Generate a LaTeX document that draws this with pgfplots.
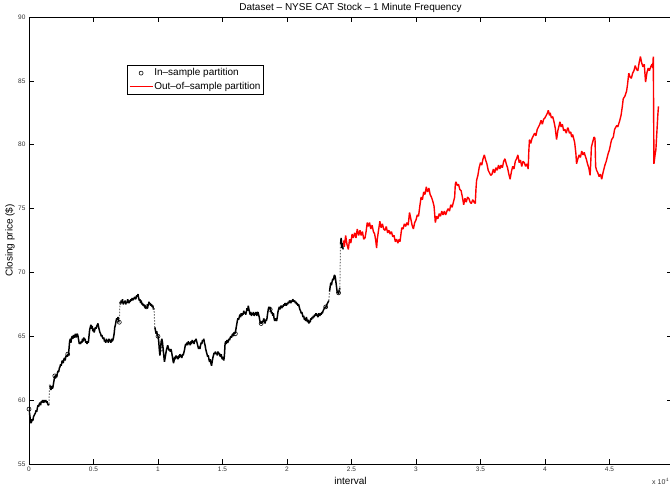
\documentclass[border=0pt]{standalone}
\usepackage{pgfplots}
\pgfplotsset{compat=1.18}
\usepackage{fontspec}
\setmainfont{Liberation Sans}
\pgfplotstableread{
x y
0.00 59.3
0.005 58.9
0.01 58.5
0.015 58.2
0.02 58.3
0.025 58.5
0.03 58.4
0.035 58.7
0.04 58.8
0.045 58.9
0.05 59.0
0.055 59.2
0.06 59.1
0.065 59.4
0.07 59.6
0.075 59.5
0.08 59.7
0.085 59.8
0.09 59.6
0.095 59.9
0.10 59.8
0.105 60.0
0.11 59.9
0.115 59.8
0.12 60.0
0.125 59.9
0.13 60.0
0.135 59.8
0.14 59.9
0.145 59.7
0.15 59.6
0.155 59.7
nan nan
0.16 61.2
0.165 61.0
0.17 60.8
0.175 61.1
0.18 60.9
0.185 61.0
0.19 61.3
0.195 61.6
0.20 61.9
0.205 61.7
0.21 62.0
0.215 61.8
0.22 62.1
0.225 62.3
0.23 62.2
0.235 62.5
0.24 62.6
0.245 62.8
0.25 62.7
0.255 63.0
0.26 63.1
0.265 62.9
0.27 63.2
0.275 63.3
0.28 63.1
0.285 63.4
0.29 63.5
0.295 63.4
0.30 63.6
0.305 63.5
0.31 64.0
0.315 64.6
0.32 64.8
0.325 64.5
0.33 64.9
0.335 65.0
0.34 64.8
0.345 65.1
0.35 64.9
0.355 65.0
0.36 65.2
0.365 64.9
0.37 65.1
0.375 65.2
0.38 65.0
0.385 64.7
0.39 64.4
0.395 64.5
0.40 64.4
0.405 64.6
0.41 64.5
0.415 64.8
0.42 64.6
0.425 64.9
0.43 64.7
0.435 64.8
0.44 64.5
0.445 64.6
0.45 64.4
0.455 64.6
0.46 64.5
0.465 65.0
0.47 65.5
0.475 65.7
0.48 65.9
0.485 65.6
0.49 65.8
0.495 65.4
0.50 65.6
0.505 65.3
0.51 65.5
0.515 65.7
0.52 65.6
0.525 65.8
0.53 65.9
0.535 66.0
0.54 65.7
0.545 65.5
0.55 65.3
0.555 65.2
0.56 65.0
0.565 65.1
0.57 64.9
0.575 64.8
0.58 64.9
0.585 64.6
0.59 64.7
0.595 64.5
0.60 64.8
0.605 64.6
0.61 64.7
0.615 64.5
0.62 64.8
0.625 64.6
0.63 64.7
0.635 64.5
0.64 64.8
0.645 64.6
0.65 64.7
0.655 64.9
0.66 65.2
0.665 65.7
0.67 65.9
0.675 66.2
0.68 66.4
0.685 66.3
0.69 66.5
0.695 66.2
0.70 66.1
nan nan
0.705 67.7
0.71 67.5
0.715 67.8
0.72 67.6
0.725 67.9
0.73 67.5
0.735 67.7
0.74 67.6
0.745 67.8
0.75 67.5
0.755 67.7
0.76 67.6
0.765 67.9
0.77 67.7
0.775 67.6
0.78 67.8
0.785 67.7
0.79 67.9
0.795 67.8
0.80 68.0
0.805 67.8
0.81 68.0
0.815 67.9
0.82 68.1
0.825 67.9
0.83 68.0
0.835 68.2
0.84 68.1
0.845 68.3
0.85 68.0
0.855 67.8
0.86 67.9
0.865 67.6
0.87 67.8
0.875 67.5
0.88 67.6
0.885 67.4
0.89 67.5
0.895 67.3
0.90 67.4
0.905 67.2
0.91 67.3
0.915 67.2
0.92 67.5
0.925 67.4
0.93 67.7
0.935 67.5
0.94 67.6
0.945 67.4
0.95 67.5
0.955 67.3
0.96 67.4
0.965 67.1
0.97 67.2
nan nan
0.975 65.7
0.98 65.5
0.985 65.2
0.99 65.4
0.995 65.1
1.00 65.0
1.005 64.7
1.01 64.0
1.015 63.5
1.02 64.1
1.025 64.6
1.03 64.8
1.035 64.5
1.04 64.0
1.045 63.5
1.05 63.0
1.055 63.3
1.06 63.6
1.065 63.9
1.07 64.1
1.075 64.3
1.08 64.1
1.085 63.9
1.09 64.0
1.095 63.8
1.10 64.0
1.105 63.8
1.11 63.5
1.115 63.2
1.12 62.9
1.125 63.1
1.13 63.4
1.135 63.2
1.14 63.5
1.145 63.3
1.15 63.4
1.155 63.2
1.16 63.5
1.165 63.3
1.17 63.6
1.175 63.4
1.18 63.5
1.185 63.3
1.19 63.6
1.195 63.5
1.20 63.7
1.205 63.9
1.21 64.2
1.215 64.4
1.22 64.3
1.225 64.5
1.23 64.3
1.235 64.6
1.24 64.4
1.245 64.5
1.25 64.3
1.255 64.6
1.26 64.4
1.265 64.7
1.27 64.5
1.275 64.6
1.28 64.4
1.285 64.7
1.29 64.6
1.295 64.8
1.30 64.6
1.305 64.4
1.31 64.2
1.315 64.0
1.32 64.2
1.325 64.0
1.33 64.3
1.335 64.5
1.34 64.4
1.345 64.7
1.35 64.6
1.355 64.8
1.36 64.5
1.365 64.3
1.37 64.0
1.375 63.8
1.38 63.6
1.385 63.4
1.39 63.5
1.395 63.2
1.40 63.0
1.405 63.2
1.41 62.9
1.415 62.7
1.42 63.0
1.425 63.3
1.43 63.5
1.435 63.7
1.44 63.6
1.445 63.8
1.45 63.6
1.455 63.7
1.46 63.5
1.465 63.8
1.47 63.6
1.475 63.7
1.48 63.5
1.485 63.4
1.49 63.6
1.495 63.3
1.50 63.2
1.505 63.4
1.51 63.1
1.515 63.5
1.52 64.4
1.525 64.6
1.53 64.4
1.535 64.7
1.54 64.5
1.545 64.6
1.55 64.8
1.555 64.7
1.56 64.9
1.565 65.0
1.57 64.9
1.575 65.1
1.58 65.2
1.585 65.0
1.59 65.3
1.595 65.2
1.60 65.3
1.605 65.6
1.61 65.9
1.615 66.2
1.62 66.4
1.625 66.3
1.63 66.5
1.635 66.7
1.64 66.5
1.645 66.8
1.65 66.6
1.655 66.8
1.66 66.7
1.665 67.0
1.67 66.8
1.675 66.9
1.68 66.7
1.685 66.9
1.69 67.2
1.695 67.0
1.70 67.4
1.705 67.1
1.71 66.9
1.715 66.7
1.72 66.9
1.725 66.6
1.73 66.8
1.735 66.7
1.74 66.9
1.745 66.6
1.75 66.8
1.755 66.7
1.76 66.9
1.765 66.6
1.77 66.8
1.775 66.9
1.78 66.7
1.785 66.5
1.79 66.2
1.795 66.0
1.80 66.1
1.805 66.0
1.81 66.2
1.815 66.1
1.82 66.4
1.825 66.2
1.83 66.0
1.835 66.3
1.84 66.2
1.845 66.4
1.85 66.8
1.855 67.1
1.86 67.3
1.865 67.1
1.87 67.3
1.875 67.0
1.88 66.8
1.885 66.9
1.89 66.6
1.895 66.8
1.90 66.4
1.905 66.2
1.91 66.4
1.915 66.3
1.92 66.2
1.925 66.5
1.93 66.9
1.935 67.1
1.94 67.3
1.945 67.1
1.95 67.3
1.955 67.4
1.96 67.2
1.965 67.4
1.97 67.3
1.975 67.5
1.98 67.4
1.985 67.6
1.99 67.5
1.995 67.4
2.00 67.6
2.005 67.5
2.01 67.7
2.015 67.6
2.02 67.8
2.025 67.7
2.03 67.6
2.035 67.8
2.04 67.7
2.045 67.9
2.05 67.8
2.055 67.7
2.06 67.8
2.065 67.6
2.07 67.7
2.075 67.5
2.08 67.6
2.085 67.4
2.09 67.5
2.095 67.3
2.10 67.1
2.105 67.0
2.11 66.8
2.115 66.9
2.12 66.7
2.125 66.5
2.13 66.6
2.135 66.3
2.14 66.4
2.145 66.2
2.15 66.5
2.155 66.3
2.16 66.1
2.165 66.3
2.17 66.0
2.175 66.2
2.18 66.1
2.185 66.4
2.19 66.3
2.195 66.5
2.20 66.4
2.205 66.6
2.21 66.5
2.215 66.7
2.22 66.6
2.225 66.8
2.23 66.6
2.235 66.7
2.24 66.5
2.245 66.8
2.25 66.7
2.255 66.6
2.26 66.8
2.265 66.7
2.27 66.9
2.275 66.8
2.28 67.0
2.285 67.1
2.29 67.2
2.295 67.3
2.30 67.2
2.305 67.4
2.31 67.5
2.315 67.6
2.32 67.7
2.325 67.8
nan nan
2.33 68.5
2.335 68.9
2.34 69.2
2.345 69.0
2.35 69.3
2.355 69.5
2.36 69.4
2.365 69.7
2.37 69.8
2.375 69.6
2.38 69.2
2.385 68.8
2.39 68.4
2.395 68.5
2.40 68.3
2.405 68.6
2.41 68.8
nan nan
2.415 72.2
2.42 72.7
2.425 71.9
2.43 72.3
2.435 71.8
}\insample
\pgfplotstableread{
x y
0.155 59.7
0.16 61.2
nan nan
0.70 66.1
0.705 67.7
nan nan
0.97 67.2
0.975 65.7
nan nan
2.325 67.8
2.33 68.5
nan nan
2.41 68.6
2.415 72.2
}\injumps
\pgfplotstableread{
x y
0.00 59.3
0.20 61.9
0.30 63.6
0.70 66.1
0.91 67.3
1.00 65.0
1.03 64.0
1.60 65.2
1.80 66.0
1.87 67.1
2.30 67.3
2.40 68.4
}\incircles
\pgfplotstableread{
x y
2.437 72.5
2.445 72.0
2.455 72.9
2.465 72.2
2.476 71.8
2.485 72.6
2.495 72.3
2.505 73.0
2.514 72.7
2.525 73.1
2.535 72.7
2.545 73.4
2.556 72.9
2.566 73.3
2.575 72.9
2.585 73.2
2.595 72.6
2.605 72.7
2.615 73.3
2.622 73.9
2.63 73.6
2.64 73.9
2.65 73.4
2.66 73.7
2.67 73.2
2.68 73.0
2.688 72.5
2.695 71.9
2.70 72.6
2.71 73.3
2.72 74.0
2.73 73.5
2.74 73.8
2.75 73.4
2.76 73.3
2.77 73.6
2.78 73.1
2.79 73.3
2.80 73.0
2.81 73.2
2.82 72.8
2.83 72.9
2.84 72.4
2.85 72.6
2.86 72.3
2.87 72.6
2.876 72.4
2.885 73.1
2.89 73.5
2.90 73.4
2.91 73.8
2.92 73.6
2.93 73.9
2.94 73.7
2.95 74.7
2.96 74.2
2.97 73.7
2.98 73.4
2.99 73.9
3.00 74.1
3.01 74.5
3.02 74.4
3.03 75.2
3.04 75.9
3.05 75.7
3.06 76.3
3.07 76.1
3.08 76.7
3.09 76.3
3.10 76.6
3.11 76.1
3.12 75.9
3.13 75.6
3.14 75.2
3.145 74.6
3.15 73.9
3.16 74.4
3.17 74.2
3.18 74.6
3.19 74.4
3.20 74.8
3.21 74.5
3.22 74.8
3.23 74.5
3.24 74.8
3.25 75.0
3.26 74.8
3.27 75.3
3.28 75.1
3.29 75.5
3.30 75.9
3.305 76.9
3.31 77.1
3.32 76.8
3.33 76.9
3.34 76.5
3.35 76.4
3.36 75.9
3.37 75.3
3.38 75.8
3.39 75.5
3.40 75.9
3.41 75.8
3.42 75.5
3.43 75.4
3.44 75.7
3.45 75.5
3.46 75.4
3.465 76.5
3.47 77.2
3.48 77.6
3.49 78.2
3.50 78.6
3.51 78.4
3.52 78.9
3.53 79.2
3.54 78.8
3.55 78.5
3.56 78.0
3.57 77.8
3.58 77.6
3.59 77.7
3.60 78.1
3.61 77.8
3.62 78.2
3.63 78.0
3.64 78.4
3.65 78.1
3.66 78.4
3.67 78.2
3.68 78.7
3.69 78.9
3.70 78.5
3.71 78.2
3.72 77.7
3.73 77.3
3.74 77.9
3.75 78.3
3.76 78.1
3.77 78.7
3.78 78.9
3.79 79.2
3.80 78.6
3.81 78.8
3.82 78.3
3.83 78.7
3.84 78.6
3.85 78.3
3.86 78.5
3.87 78.1
3.875 79.5
3.88 80.4
3.89 80.1
3.90 80.5
3.91 80.7
3.92 80.9
3.93 80.7
3.94 81.2
3.95 81.4
3.96 81.6
3.97 81.9
3.98 81.6
3.99 82.0
4.00 82.1
4.01 82.3
4.02 82.5
4.026 82.7
4.035 82.3
4.04 82.5
4.05 82.1
4.06 82.2
4.07 81.8
4.08 81.3
4.09 80.4
4.10 81.1
4.11 81.5
4.116 81.8
4.125 81.4
4.135 81.6
4.145 81.1
4.155 81.2
4.165 80.9
4.175 81.3
4.18 81.3
4.19 80.9
4.20 81.0
4.207 80.6
4.215 80.8
4.225 80.4
4.23 80.2
4.24 79.3
4.245 78.5
4.255 78.9
4.265 79.2
4.275 79.0
4.285 79.5
4.295 79.2
4.305 79.4
4.31 79.2
4.32 78.9
4.33 78.5
4.34 78.2
4.35 77.6
4.355 78.6
4.36 79.8
4.37 80.2
4.38 80.6
4.388 80.5
4.393 78.3
4.40 78.0
4.41 77.8
4.42 77.5
4.43 77.7
4.44 77.3
4.45 77.8
4.465 78.4
4.475 78.7
4.49 79.3
4.50 79.6
4.51 80.1
4.517 80.4
4.53 80.6
4.54 81.2
4.556 81.5
4.565 81.4
4.58 81.9
4.59 82.3
4.60 83.0
4.607 83.6
4.62 83.8
4.633 84.2
4.64 84.7
4.65 85.6
4.66 85.3
4.67 85.2
4.68 85.6
4.69 85.8
4.70 86.2
4.71 85.9
4.72 85.8
4.73 86.4
4.74 86.9
4.75 86.4
4.76 86.1
4.77 86.3
4.775 85.6
4.78 84.9
4.79 85.6
4.80 86.0
4.81 85.8
4.82 86.1
4.83 86.3
4.835 86.0
4.84 86.9
4.845 78.5
4.85 78.9
4.855 79.3
4.86 79.6
4.865 80.5
4.87 81.4
4.875 82.3
4.88 83.0
}\outsample
\begin{document}
\begin{tikzpicture}
\begin{axis}[
  name=ax,
  at={(0,0)}, anchor=south west,
  scale only axis,
  width=643pt, height=447pt,
  xmin=0, xmax=4.985,
  ymin=55, ymax=90,
  xtick={0,0.5,1,1.5,2,2.5,3,3.5,4,4.5},
  ytick={55,60,65,70,75,80,85,90},
  tick align=inside,
  tick pos=both,
  major tick length=5pt,
  axis line style={line width=0.8pt},
  every tick/.style={line width=0.6pt, black},
  unbounded coords=jump,
  /pgf/number format/assume math mode=true,
  tick label style={font=\fontsize{6.5}{7}\selectfont, color=black!80},
  xticklabel style={yshift=1pt},
  every axis title shift=0pt,
  title={Dataset -- NYSE CAT Stock -- 1 Minute Frequency},
  title style={font=\fontsize{10}{12}\selectfont, at={(axis description cs:0.5,1.02)}, anchor=center},
  xlabel={interval},
  every axis x label/.style={at={(axis description cs:0.5,-0.038)}, anchor=center, font=\fontsize{10}{12}\selectfont},
  ylabel={Closing price (\$)},
  every axis y label/.style={at={(axis description cs:-0.0295,0.5)}, rotate=90, anchor=center, font=\fontsize{10}{12}\selectfont},
  legend style={at={(rel axis cs:0.1524,0.893)}, anchor=north west,
    font=\fontsize{10}{12}\selectfont, draw=black, line width=0.8pt,
    inner xsep=1.5pt, inner ysep=2.5pt, nodes={inner sep=1pt}, row sep=2.5pt},
  legend cell align=left,
  legend image code/.code={\draw[#1] (0pt,0pt) -- (23pt,0pt);},
]
\addplot[black, line width=1.5pt, line join=bevel, mark=none,
  legend image code/.code={\draw[black, line width=0.6pt] (11.5pt,0pt) circle[radius=2pt];}]
  table[x=x,y=y] {\insample};
\addlegendentry{In--sample partition}
\addplot[red, line width=1.4pt, mark=none, line join=bevel] table[x=x,y=y] {\outsample};
\addlegendentry{Out--of--sample partition}
\addplot[black!55, line width=1pt, dash pattern=on 1.5pt off 1.5pt, forget plot] table[x=x,y=y] {\injumps};
\addplot[only marks, mark=o, mark size=2pt, mark options={line width=0.6pt, draw=black}, forget plot] table[x=x,y=y] {\incircles};
\end{axis}
\node[anchor=base west, font=\fontsize{7}{8}\selectfont, color=black!80, inner sep=0pt] at (623pt,-21pt) {x 10$^{4}$};
\pgfresetboundingbox
\path[use as bounding box] (-29pt,-26pt) rectangle (641pt,464pt);
\end{tikzpicture}
\end{document}
